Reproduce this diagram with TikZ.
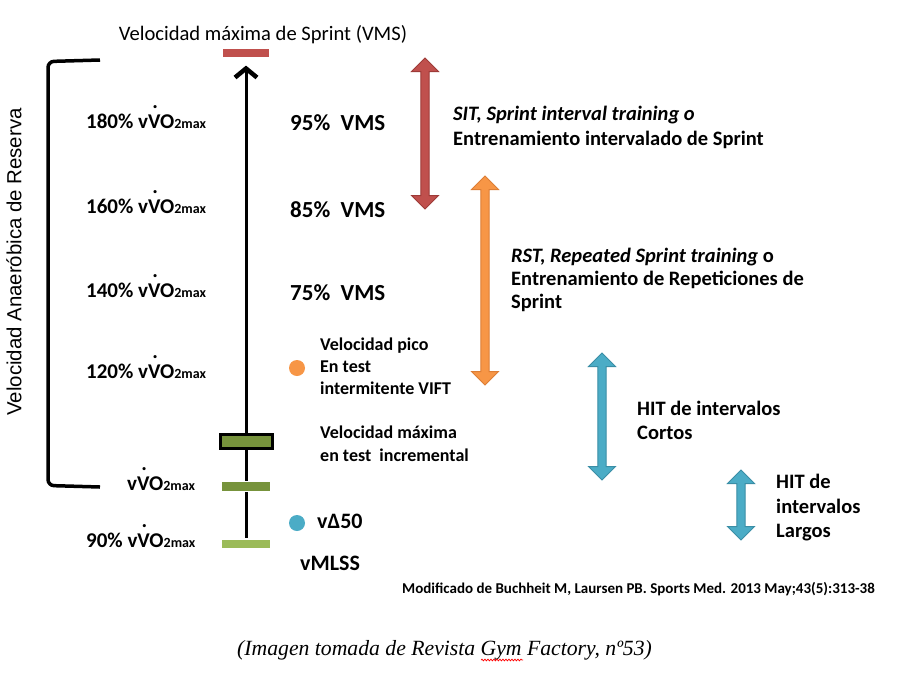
\documentclass[tikz,border=0pt]{standalone}
\usepackage{fontspec}
\setmainfont{Carlito}
\newfontfamily\arialf{Liberation Sans}
\newfontfamily\serf{Liberation Serif}
\usetikzlibrary{arrows.meta,shadows,decorations.pathmorphing}
\definecolor{cred}{HTML}{C0504D}
\definecolor{credd}{HTML}{9E3B38}
\definecolor{corange}{HTML}{F79646}
\definecolor{coranged}{HTML}{DD7E35}
\definecolor{cblue}{HTML}{4BACC6}
\definecolor{cblued}{HTML}{3A8EA6}
\definecolor{cdg}{HTML}{77933C}
\definecolor{clg}{HTML}{9BBB59}
\newcommand\fs[1]{\fontsize{#1}{#1}\selectfont}
\newcommand\vdV{\makebox[0pt][l]{\hspace{0.2em}\raisebox{0.95em}{.}}V}
\newcommand\vvo{v\vdV O{\fs{14}2max}}
\newcommand\BlockArrow[5]{%
  \filldraw[fill=#4, draw=#5, line width=1pt, line join=miter]
    (#1,#2) -- (#1+13.5,#2+13.5) -- (#1+4.2,#2+13.5) -- (#1+4.2,#3-13.5)
    -- (#1+13.5,#3-13.5) -- (#1,#3) -- (#1-13.5,#3-13.5) -- (#1-4.2,#3-13.5)
    -- (#1-4.2,#2+13.5) -- (#1-13.5,#2+13.5) -- cycle;}
\pgfdeclarelayer{bg}
\pgfsetlayers{bg,main}
\begin{document}
\begin{tikzpicture}[x=1pt,y=-1pt,
  lbl/.style={anchor=base west,inner sep=0pt,font=\bfseries\fs{21}},
  vms/.style={anchor=base west,inner sep=0pt,font=\bfseries\fs{23}},
  note/.style={anchor=base west,inner sep=0pt,font=\bfseries\fs{18}},
  desc/.style={anchor=base west,inner sep=0pt,font=\bfseries\fs{20.5}},
  bar/.style={draw=white, line width=1.2pt, inner sep=0pt,
    drop shadow={opacity=0.25,shadow xshift=0.6pt,shadow yshift=-0.8pt}},
  dot/.style={circle, inner sep=0pt, minimum size=16pt}]
\begin{pgfonlayer}{bg}
\fill[white] (0,0) rectangle (900,678);
\end{pgfonlayer}
\useasboundingbox (0,0) rectangle (900,678);

% title
\node[anchor=base, inner sep=0pt, font=\fs{20.6}] (title) at (263,40) {Velocidad máxima de Sprint (VMS)};

% bars
\node[bar, fill=cred, minimum width=48pt, minimum height=10pt] (vmsbar) at (246,53) {};
\node[draw=black, line width=3pt, fill=cdg, minimum width=52pt, minimum height=14pt, inner sep=0pt] (vmaxbox) at (246,441.5) {};
\node[bar, fill=cdg, minimum width=49pt, minimum height=10pt] (vobar) at (246,486.5) {};
\node[bar, fill=clg, minimum width=49pt, minimum height=10pt] (mlssbar) at (246,544) {};

\begin{pgfonlayer}{bg}
\draw[line width=3pt, -{Straight Barb[length=9pt,width=22pt,line width=4.5pt]}, shorten >=7pt]
  (mlssbar.north) -- (vmsbar.south);
\end{pgfonlayer}

% bracket
\draw[line width=3.5pt, rounded corners=6pt] (100,60) -- (48,61.5) -- (48,485.5) -- (100,487);
\node[rotate=90, inner sep=0pt, font=\arialf\fs{20.4}] (var) at (14,262) {Velocidad Anaeróbica de Reserva};

% left labels
\node[lbl] (l180) at (86,128) {180\% \vvo};
\node[lbl] (l160) at (86,213) {160\% \vvo};
\node[lbl] (l140) at (86,297) {140\% \vvo};
\node[lbl] (l120) at (86,378) {120\% \vvo};
\node[lbl] (lvo) at (127,490) {\vvo};
\node[lbl] (l90) at (86,547) {90\% \vvo};

% VMS percentages
\node[vms] (p95) at (290,130) {95\%\ \ VMS};
\node[vms] (p85) at (290,217) {85\%\ \ VMS};
\node[vms] (p75) at (290,300) {75\%\ \ VMS};

% dots
\node[dot, fill=corange] (peak) at (297,368) {};
\node[dot, fill=cblue] (d50) at (297,523) {};

\node[note] (n1a) at (320,350) {Velocidad pico};
\node[note] (n1b) at (320,372) {En test};
\node[note] (n1c) at (320,394) {intermitente VIFT};
\node[note] (n2a) at (320,438) {Velocidad máxima};
\node[note] (n2b) at (320,461) {en test\ \ incremental};
\node[anchor=base west, inner sep=0pt, font=\bfseries\fs{22}] (v50) at (317,528) {vΔ50};
\node[anchor=base west, inner sep=0pt, font=\bfseries\fs{22}] (vmlss) at (300,570) {vMLSS};

% block arrows
\BlockArrow{425}{58}{209}{cred}{credd}
\BlockArrow{485}{176}{385}{corange}{coranged}
\BlockArrow{602}{353}{480}{cblue}{cblued}
\BlockArrow{741}{470}{540}{cblue}{cblued}

% descriptions
\node[desc] (sit1) at (453,120) {\textit{SIT, Sprint interval training o}};
\node[desc] (sit2) at (453,145) {Entrenamiento intervalado de Sprint};
\node[desc] (rst1) at (511,262) {\textit{RST, Repeated Sprint training} o};
\node[desc] (rst2) at (511,285) {Entrenamiento de Repeticiones de};
\node[desc] (rst3) at (511,308) {Sprint};
\node[desc] (hc1) at (637,415) {HIT de intervalos};
\node[desc] (hc2) at (637,439) {Cortos};
\node[desc] (hl1) at (776,488) {HIT de};
\node[desc] (hl2) at (776,513) {intervalos};
\node[desc] (hl3) at (776,537) {Largos};

% source
\node[anchor=base west, inner sep=0pt, font=\bfseries\fs{15}] (src) at (402,593) {Modificado de Buchheit M, Laursen PB. Sports Med. 2013 May;43(5):313-38};

% caption
\node[anchor=base west, inner sep=0pt, font=\serf\itshape\fs{21.7}] (cap) at (237,655) {(Imagen tomada de Revista Gym Factory, nº53)};
\draw[red, line width=0.7pt, decorate, decoration={snake, amplitude=0.9pt, segment length=3pt}] (481,660) -- (523,660);
\end{tikzpicture}
\end{document}
